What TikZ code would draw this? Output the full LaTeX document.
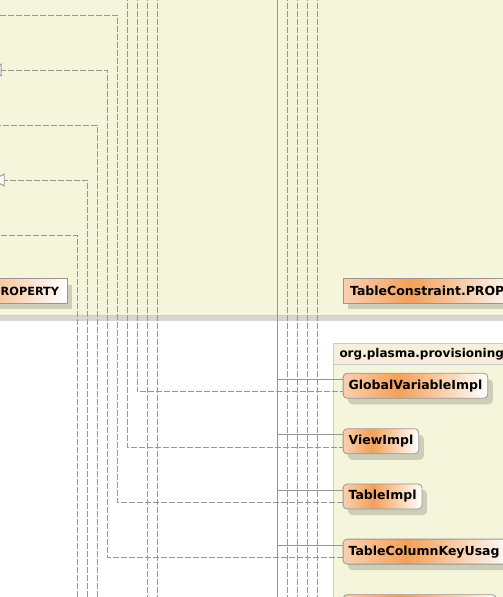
\documentclass[tikz,border=0pt]{standalone}
\usepackage{fontspec}
\setmainfont{DejaVu Sans}
\usepackage{tikz}
\usetikzlibrary{shadows}
\usetikzlibrary{arrows.meta}
\definecolor{pkgColor}{RGB}{245,245,220}
\definecolor{pkgHeadColor}{RGB}{248,238,218}
\definecolor{pkgBorderColor}{RGB}{200,204,216}
\definecolor{bandColor}{RGB}{214,214,214}
\definecolor{lineColor}{RGB}{150,150,150}
\definecolor{boxBorderColor}{RGB}{150,150,150}
\definecolor{classPeach}{RGB}{250,208,176}
\definecolor{classOrange}{RGB}{243,160,90}
\pgfdeclarehorizontalshading{classShade}{100bp}{color(0bp)=(classPeach); color(25bp)=(classPeach); color(44bp)=(classOrange); color(75bp)=(white); color(100bp)=(white)}

\begin{document}
\begin{tikzpicture}[x=1pt,y=-1pt]

          \tikzstyle{classNode} = [draw=boxBorderColor, line width=0.8pt, rounded corners=4pt, shading=classShade, minimum height=25pt, inner xsep=5.5pt, font=\bfseries\fontsize{12.5}{14}\selectfont, drop shadow={shadow xshift=5pt, shadow yshift=-6pt, fill=black, opacity=0.16}];
          \tikzstyle{enumNode} = [classNode, sharp corners, inner xsep=7pt];
          \tikzstyle{enumBox} = [draw=boxBorderColor, line width=0.8pt, shading=classShade, drop shadow={shadow xshift=5pt, shadow yshift=-6pt, fill=black, opacity=0.16}];
          \tikzstyle{labelNode} = [inner xsep=8pt, font=\bfseries\fontsize{11.3}{14}\selectfont];
          \tikzstyle{pkgHeadNode} = [inner xsep=6.6pt, font=\bfseries\fontsize{12}{14}\selectfont];

          \tikzstyle{dependEdge} = [lineColor, line width=0.9pt, dash pattern=on 6pt off 2pt];
          \tikzstyle{realizeEdge} = [dependEdge, -{Triangle[length=13pt, width=13pt, fill=white]}];
          \tikzstyle{treeEdge} = [lineColor, line width=0.9pt];

          \useasboundingbox (0,0) rectangle (503,597);

          % packages
          \fill[pkgColor] (0,-10) rectangle (503,315.5);
          \fill[bandColor] (0,315.5) rectangle (503,321);
          \draw[pkgBorderColor] (0,315.5) -- (503,315.5);
          \fill[pkgColor] (332.7,343.3) rectangle (520,620);
          \fill[pkgHeadColor] (332.7,343.3) rectangle (520,364.3);
          \draw[pkgBorderColor] (520,343.3) -- (332.7,343.3) -- (332.7,620);
          \draw[pkgBorderColor] (332.7,364.3) -- (520,364.3);
          \node[pkgHeadNode, anchor=west] (pkgName) at (332.7,354) {org.plasma.provisioning};

          % enum boxes, the left one runs out of the picture
          \draw[enumBox] (-120,278.6) rectangle (67.3,303.4);
          \node[labelNode, anchor=east] (leftProperty) at (67.3,291) {ROPERTY};
          \node[enumNode, anchor=west, text width=163pt, align=left] (tableConstraintProp) at (342.7,290.8) {TableConstraint.PROP};

          \node[classNode, anchor=west] (globalVariableImpl) at (342.7,385.8) {GlobalVariableImpl};
          \node[classNode, anchor=west] (viewImpl) at (342.7,441.3) {ViewImpl};
          \node[classNode, anchor=west] (tableImpl) at (342.7,496.5) {TableImpl};
          \node[classNode, anchor=west, text width=158pt, align=left] (tableColumnKeyUsage) at (342.7,551.6) {TableColumnKeyUsag};
          \node[classNode, anchor=north west, minimum width=153pt] (nextImpl) at (342.7,594.3) {};

          % free ends
          \coordinate (leftIn1) at (-5,15);
          \coordinate (leftIn2) at (-11.5,70);
          \coordinate (leftIn3) at (-5,125);
          \coordinate (leftIn4) at (-8.3,180);
          \coordinate (leftIn5) at (-5,235);
          \coordinate (corner1) at (117,15);
          \coordinate (corner2) at (107,70);
          \coordinate (bottom3) at (97,605);
          \coordinate (bottom4) at (87,605);
          \coordinate (bottom5) at (77,605);
          \coordinate (top6) at (127,-5);
          \coordinate (top7) at (137,-5);
          \coordinate (top8) at (147,-5);
          \coordinate (bottom8) at (147,605);
          \coordinate (top9) at (157,-5);
          \coordinate (bottom9) at (157,605);
          \coordinate (trunkTop) at (277,-5);
          \coordinate (trunkBottom) at (277,605);
          \coordinate (topR1) at (287,-5);
          \coordinate (bottomR1) at (287,605);
          \coordinate (topR2) at (297,-5);
          \coordinate (bottomR2) at (297,605);
          \coordinate (topR3) at (307,-5);
          \coordinate (bottomR3) at (307,605);
          \coordinate (topR4) at (317,-5);
          \coordinate (bottomR4) at (317,605);

          \draw[dependEdge] ([yshift=-6pt]tableImpl.west) -| (corner1) -- (leftIn1);
          \draw[realizeEdge] ([yshift=-6pt]tableColumnKeyUsage.west) -| (corner2) -- (leftIn2);
          \draw[dependEdge] (bottom3) |- (leftIn3);
          \draw[realizeEdge] (bottom4) |- (leftIn4);
          \draw[dependEdge] (bottom5) |- (leftIn5);
          \draw[dependEdge] (top6) |- ([yshift=-6pt]viewImpl.west);
          \draw[dependEdge] (top7) |- ([yshift=-6pt]globalVariableImpl.west);
          \draw[dependEdge] (top8) -- (bottom8);
          \draw[dependEdge] (top9) -- (bottom9);

          \draw[treeEdge] (trunkTop) -- (trunkBottom);
          \draw[treeEdge] ([yshift=6.5pt]globalVariableImpl.west) -| (trunkTop);
          \draw[treeEdge] ([yshift=6.5pt]viewImpl.west) -| (trunkTop);
          \draw[treeEdge] ([yshift=6.5pt]tableImpl.west) -| (trunkTop);
          \draw[treeEdge] ([yshift=6.5pt]tableColumnKeyUsage.west) -| (trunkTop);
          \draw[dependEdge] (topR1) -- (bottomR1);
          \draw[dependEdge] (topR2) -- (bottomR2);
          \draw[dependEdge] (topR3) -- (bottomR3);
          \draw[dependEdge] (topR4) -- (bottomR4);
        \end{tikzpicture}
\end{document}
